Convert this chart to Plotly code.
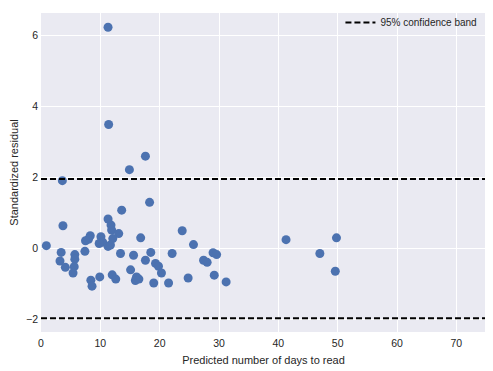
import plotly.graph_objects as go

predicted_days = [
    0.9, 11.3, 11.4, 17.6, 14.9, 3.6, 18.3, 13.6, 3.7, 11.3,
    11.8, 11.9, 13.1, 12.1, 8.3, 8.0, 7.5, 10.1, 10.4, 9.8,
    11.3, 11.7, 16.8, 23.8, 25.7, 3.4, 3.2, 4.1, 5.7, 5.7,
    5.6, 5.4, 7.4, 8.4, 8.6, 9.9, 12.0, 12.6, 13.4, 15.1,
    15.6, 16.1, 16.5, 15.9, 17.6, 18.5, 19.3, 19.8, 20.3, 19.0,
    21.5, 22.1, 24.8, 29.0, 29.6, 27.4, 28.0, 29.2, 31.2, 41.3,
    47.0, 49.8, 49.6,
]
std_residual = [
    0.08, 6.23, 3.49, 2.60, 2.22, 1.91, 1.30, 1.08, 0.64, 0.83,
    0.66, 0.52, 0.42, 0.28, 0.36, 0.26, 0.22, 0.33, 0.18, 0.14,
    0.06, 0.10, 0.30, 0.50, 0.11, -0.11, -0.35, -0.53, -0.17, -0.30,
    -0.51, -0.69, -0.08, -0.89, -1.06, -0.80, -0.74, -0.86, -0.14, -0.60,
    -0.19, -0.80, -0.86, -0.90, -0.33, -0.11, -0.42, -0.50, -0.69, -0.97,
    -0.97, -0.14, -0.83, -0.12, -0.17, -0.33, -0.39, -0.75, -0.94, 0.25,
    -0.14, 0.30, -0.64,
]
band_x = [0, 75]
band_upper = [1.96, 1.96]
band_lower = [-1.96, -1.96]
x_ticks = [0, 10, 20, 30, 40, 50, 60, 70]
y_ticks = [-2, 0, 2, 4, 6]

FONT = "Liberation Sans, Arial, sans-serif"
fig = go.Figure()
fig.add_trace(go.Scatter(
    x=predicted_days, y=std_residual, mode="markers",
    marker=dict(color="#4C72B0", size=9, line=dict(width=0)),
    showlegend=False,
))
fig.add_trace(go.Scatter(
    x=band_x, y=band_upper, mode="lines",
    line=dict(color="black", width=2, dash="6px,3px"),
    name="95% confidence band", showlegend=True,
))
fig.add_trace(go.Scatter(
    x=band_x, y=band_lower, mode="lines",
    line=dict(color="black", width=2, dash="6px,3px"),
    showlegend=False,
))

fig.update_layout(
    width=485, height=363,
    margin=dict(l=33, r=7, t=0, b=39),
    paper_bgcolor="white", plot_bgcolor="#EAEAF2",
    font=dict(family=FONT, size=11, color="#262626"),
    legend=dict(x=0.992, y=1.016, xanchor="right", yanchor="top",
                bgcolor="rgba(0,0,0,0)", font=dict(size=10),
                itemwidth=30),
)
fig.update_xaxes(
    range=[0, 75], tickvals=x_ticks, showgrid=True, gridcolor="white",
    gridwidth=1, zeroline=False, showline=False, ticks="",
    automargin=False, ticklabelstandoff=3,
    title=dict(text="Predicted number of days to read", standoff=8,
               font=dict(size=11)),
    tickfont=dict(size=10.5),
)
fig.update_yaxes(
    range=[-2.35, 6.63], tickvals=y_ticks, showgrid=True, gridcolor="white",
    gridwidth=1, zeroline=False, showline=False, ticks="",
    automargin=False, ticklabelstandoff=2,
    title=dict(text="Standardized residual", standoff=15,
               font=dict(size=11)),
    tickfont=dict(size=10.5),
)
fig.write_html("out.html")
